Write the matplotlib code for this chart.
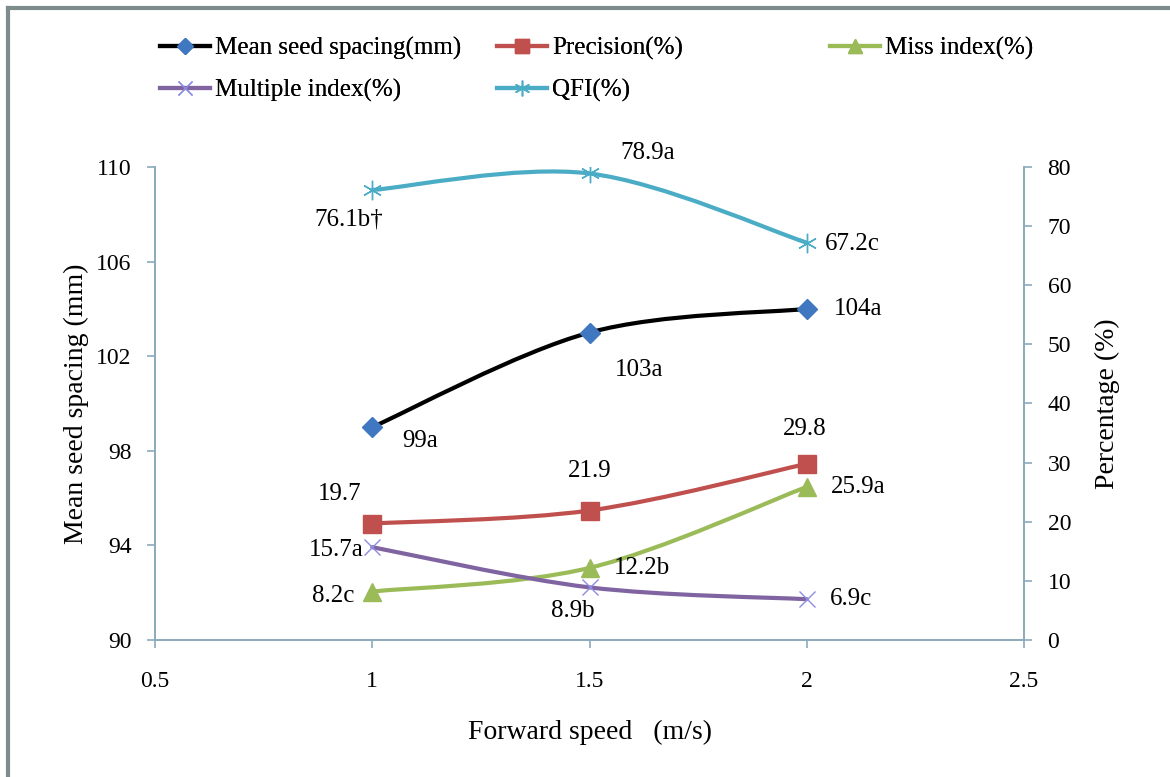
import matplotlib.pyplot as plt
from matplotlib.path import Path
from matplotlib.patches import PathPatch
from matplotlib.lines import Line2D

plt.rcParams['font.family'] = ['Liberation Serif', 'DejaVu Serif']

speed = [1.0, 1.5, 2.0]
mean_spacing = [99, 103, 104]
precision = [19.7, 21.9, 29.8]
miss_index = [8.2, 12.2, 25.9]
multiple_index = [15.7, 8.9, 6.9]
qfi = [76.1, 78.9, 67.2]

spacing_labels = ['99a', '103a', '104a']
precision_labels = ['19.7', '21.9', '29.8']
miss_labels = ['8.2c', '12.2b', '25.9a']
multiple_labels = ['15.7a', '8.9b', '6.9c']
qfi_labels = ['76.1b\u2020', '78.9a', '67.2c']


# Excel-like smoothed line: cubic bezier through the points
def smooth_path(xs, ys):
    pts = list(zip(xs, ys))
    n = len(pts)
    verts = [pts[0]]
    codes = [Path.MOVETO]
    for i in range(n - 1):
        p0 = pts[i - 1] if i > 0 else pts[i]
        p1 = pts[i]
        p2 = pts[i + 1]
        p3 = pts[i + 2] if i + 2 < n else pts[i + 1]
        c1 = (p1[0] + (p2[0] - p0[0]) / 6, p1[1] + (p2[1] - p0[1]) / 6)
        c2 = (p2[0] - (p3[0] - p1[0]) / 6, p2[1] - (p3[1] - p1[1]) / 6)
        verts += [c1, c2, p2]
        codes += [Path.CURVE4] * 3
    return Path(verts, codes)


def draw_series(axis, ys, color, mcolor, marker, ms, mew):
    axis.add_patch(PathPatch(smooth_path(speed, ys), fill=False,
                             edgecolor=color, lw=3, capstyle='round', zorder=3))
    axis.plot(speed, ys, linestyle='none', marker=marker, ms=ms,
              color=mcolor, mec=mcolor, mew=mew, zorder=4)
    return Line2D([], [], color=color, lw=3, marker=marker, ms=ms * 0.8,
                  mfc=mcolor, mec=mcolor, mew=mew)


fig = plt.figure(figsize=(11.7, 7.77), dpi=100)
ax = fig.add_axes([0.1325, 0.1763, 0.7427, 0.6088])
ax2 = ax.twinx()

axis_col = '#8AAABB'
ax.set_xlim(0.5, 2.5)
ax.set_ylim(90, 110)
ax.set_xticks([0.5, 1, 1.5, 2, 2.5])
ax.set_xticklabels(['0.5', '1', '1.5', '2', '2.5'])
ax.set_yticks([90, 94, 98, 102, 106, 110])
ax2.set_ylim(0, 80)
ax2.set_yticks(range(0, 81, 10))

for a in (ax, ax2):
    a.spines['top'].set_visible(False)
    for s in ('left', 'right', 'bottom'):
        a.spines[s].set_color(axis_col)
        a.spines[s].set_linewidth(1.2)
    a.tick_params(colors=axis_col, labelcolor='black', labelsize=17, length=6, width=1.2)
ax.tick_params(axis='x', pad=16)
ax.tick_params(axis='y', pad=11)
ax2.tick_params(axis='y', pad=11)

h_mean = draw_series(ax, mean_spacing, 'black', '#3F78C0', 'D', 10, 1)
h_prec = draw_series(ax2, precision, '#C0504D', '#C0504D', 's', 13, 1)
h_miss = draw_series(ax2, miss_index, '#9BBB59', '#9BBB59', '^', 13, 1)
h_mult = draw_series(ax2, multiple_index, '#8064A2', '#8C8CE0', 'x', 12, 1)
h_qfi = draw_series(ax2, qfi, '#4BACC6', '#4BACC6', (6, 2, 0), 14, 1)

ann = dict(textcoords='offset pixels', ha='center', va='center', fontsize=18)
offs_mean = [(48, -14), (50, -37), (51, 0)]
offs_prec = [(-33, 30), (0, 40), (-2, 35)]
offs_miss = [(-39, -4), (52, 0), (51, 0)]
offs_mult = [(-36, -3), (-17, -24), (44, 0)]
offs_qfi = [(-24, -29), (58, 20), (46, -1)]
for a, ys, labels, offs in ((ax, mean_spacing, spacing_labels, offs_mean),
                            (ax2, precision, precision_labels, offs_prec),
                            (ax2, miss_index, miss_labels, offs_miss),
                            (ax2, multiple_index, multiple_labels, offs_mult),
                            (ax2, qfi, qfi_labels, offs_qfi)):
    for x, y, t, o in zip(speed, ys, labels, offs):
        a.annotate(t, (x, y), xytext=o, **ann)

ax.set_ylabel('Mean seed spacing (mm)', fontsize=20, labelpad=5)
ax2.set_ylabel('Percentage (%)', fontsize=20, labelpad=17)
ax.set_xlabel('Forward speed   (m/s)', fontsize=20, labelpad=20)

# legend laid out in three free columns like the original
leg_style = dict(loc='upper left', frameon=False, fontsize=18, handlelength=2.0,
                 handletextpad=0.2, labelspacing=0.75, borderpad=0, borderaxespad=0)
columns = [([h_mean, h_mult], ['Mean seed spacing(mm)', 'Multiple index(%)'], 0.137),
           ([h_prec, h_qfi], ['Precision(%)', 'QFI(%)'], 0.425),
           ([h_miss], ['Miss index(%)'], 0.709)]
for hs, names, x0 in columns:
    lg = fig.legend(hs, names, bbox_to_anchor=(x0, 0.952), **leg_style)
    fig.add_artist(lg)

# grey frame edge on left and top
fig.add_artist(Line2D([0.007, 0.007], [0, 0.99], color='#7F8C8D', lw=3))
fig.add_artist(Line2D([0.007, 1.0], [0.99, 0.99], color='#7F8C8D', lw=3))

fig.savefig('out.png', dpi=100)
